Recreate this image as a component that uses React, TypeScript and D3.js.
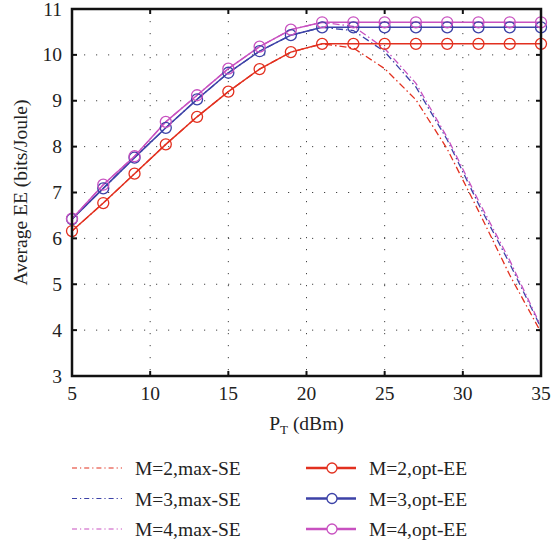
import React from 'react';
import * as d3 from 'd3';

// transmit power (dBm)
const powers = [5, 7, 9, 11, 13, 15, 17, 19, 21, 23, 25, 27, 29, 31, 33, 35];

// opt-EE curves
const optEE_M2 = [6.16, 6.77, 7.41, 8.05, 8.65, 9.2, 9.69, 10.06, 10.24, 10.24, 10.24, 10.24, 10.24, 10.24, 10.24, 10.24];
const optEE_M3 = [6.42, 7.09, 7.76, 8.41, 9.03, 9.61, 10.08, 10.43, 10.6, 10.6, 10.6, 10.6, 10.6, 10.6, 10.6, 10.6];
const optEE_M4 = [6.43, 7.17, 7.79, 8.54, 9.12, 9.7, 10.18, 10.55, 10.71, 10.71, 10.71, 10.71, 10.71, 10.71, 10.71, 10.71];

// max-SE curves
const maxSE_M2 = [6.16, 6.77, 7.41, 8.05, 8.65, 9.2, 9.69, 10.06, 10.24, 10.15, 9.7, 9.02, 7.95, 6.6, 5.2, 3.95];
const maxSE_M3 = [6.42, 7.09, 7.76, 8.41, 9.03, 9.61, 10.08, 10.43, 10.6, 10.53, 10.07, 9.3, 8.15, 6.75, 5.45, 4.05];
const maxSE_M4 = [6.43, 7.17, 7.79, 8.54, 9.12, 9.7, 10.18, 10.55, 10.71, 10.62, 10.14, 9.38, 8.2, 6.82, 5.52, 4.08];

const xTicks = [5, 10, 15, 20, 25, 30, 35];
const yTicks = [3, 4, 5, 6, 7, 8, 9, 10, 11];

const RED = '#e2301f';
const BLUE = '#3c42a7';
const MAGENTA = '#c851c0';

const series = [
  { name: 'M=2,max-SE', values: maxSE_M2, color: RED, dashed: true },
  { name: 'M=3,max-SE', values: maxSE_M3, color: BLUE, dashed: true },
  { name: 'M=4,max-SE', values: maxSE_M4, color: MAGENTA, dashed: true },
  { name: 'M=2,opt-EE', values: optEE_M2, color: RED, dashed: false },
  { name: 'M=3,opt-EE', values: optEE_M3, color: BLUE, dashed: false },
  { name: 'M=4,opt-EE', values: optEE_M4, color: MAGENTA, dashed: false },
];

const DASHDOT = '7,3,1.5,3';
const FONT = "'Liberation Serif', 'Times New Roman', serif";
const FS = 19.5;

export default function App() {
  const width = 551;
  const height = 547;
  const margin = { left: 72, right: 10, top: 9, bottom: 171 };
  const innerW = width - margin.left - margin.right;
  const innerH = height - margin.top - margin.bottom;

  const x = d3.scaleLinear().domain([5, 35]).range([0, innerW]);
  const y = d3.scaleLinear().domain([3, 11]).range([innerH, 0]);

  const line = d3
    .line<number>()
    .x((_, i) => x(powers[i]))
    .y((d) => y(d));

  const tickLen = 5;

  return (
    <svg width={width} height={height} style={{ display: 'block', position: 'absolute', left: 0, top: 0, fontFamily: FONT }}>
      <rect width={width} height={height} fill="#fff" />
      <g transform={`translate(${margin.left},${margin.top})`}>
        {/* dotted grid */}
        {xTicks.slice(1, -1).map((t) => (
          <line key={'gx' + t} x1={x(t)} x2={x(t)} y1={0} y2={innerH} stroke="#444" strokeWidth={1} strokeDasharray="1.2,10.8" />
        ))}
        {yTicks.slice(1, -1).map((t) => (
          <line key={'gy' + t} x1={0} x2={innerW} y1={y(t)} y2={y(t)} stroke="#444" strokeWidth={1} strokeDasharray="1.2,10.8" />
        ))}

        {/* curves */}
        {series.map((s) => (
          <path
            key={s.name}
            d={line(s.values) || ''}
            fill="none"
            stroke={s.color}
            strokeWidth={s.dashed ? 1.3 : 1.5}
            strokeDasharray={s.dashed ? DASHDOT : undefined}
          />
        ))}
        {series
          .filter((s) => !s.dashed)
          .map((s) =>
            s.values.map((v, i) => (
              <circle key={s.name + i} cx={x(powers[i])} cy={y(v)} r={5.5} fill="none" stroke={s.color} strokeWidth={1.3} />
            ))
          )}

        {/* ticks */}
        {xTicks.map((t) => (
          <g key={'tx' + t}>
            <line x1={x(t)} x2={x(t)} y1={innerH} y2={innerH - tickLen} stroke="#111" strokeWidth={2} />
            <line x1={x(t)} x2={x(t)} y1={0} y2={tickLen} stroke="#111" strokeWidth={2} />
            <text x={x(t)} y={innerH + 24} textAnchor="middle" fontSize={FS} fill="#222">
              {t}
            </text>
          </g>
        ))}
        {yTicks.map((t) => (
          <g key={'ty' + t}>
            <line x1={0} x2={tickLen} y1={y(t)} y2={y(t)} stroke="#111" strokeWidth={2} />
            <line x1={innerW} x2={innerW - tickLen} y1={y(t)} y2={y(t)} stroke="#111" strokeWidth={2} />
            <text x={-10} y={y(t) + 6.5} textAnchor="end" fontSize={FS} fill="#222">
              {t}
            </text>
          </g>
        ))}

        <rect x={0} y={0} width={innerW} height={innerH} fill="none" stroke="#111" strokeWidth={2.5} />

        {/* axis labels */}
        <text x={innerW / 2} y={innerH + 54} textAnchor="middle" fontSize={FS} fill="#222">
          P<tspan fontSize={13} dy={4}>T</tspan>
          <tspan dy={-4}> (dBm)</tspan>
        </text>
        <text transform={`translate(${-45},${innerH / 2}) rotate(-90)`} textAnchor="middle" fontSize={FS} fill="#222">
          Average EE (bits/Joule)
        </text>
      </g>

      {/* legend */}
      {series.map((s, i) => {
        const col = s.dashed ? 0 : 1;
        const row = i % 3;
        const lx = col === 0 ? 72 : 306;
        const ly = 468 + row * 30.5;
        return (
          <g key={'lg' + s.name}>
            <line
              x1={lx}
              x2={lx + 50}
              y1={ly}
              y2={ly}
              stroke={s.color}
              strokeWidth={s.dashed ? 1.2 : 2.5}
              strokeDasharray={s.dashed ? '5,3,1.2,3' : undefined}
            />
            {!s.dashed && <circle cx={lx + 26} cy={ly} r={5} fill="#fff" stroke={s.color} strokeWidth={1.3} />}
            <text x={lx + (s.dashed ? 63 : 63)} y={ly + 7} fontSize={FS} fill="#222">
              {s.name}
            </text>
          </g>
        );
      })}
    </svg>
  );
}
